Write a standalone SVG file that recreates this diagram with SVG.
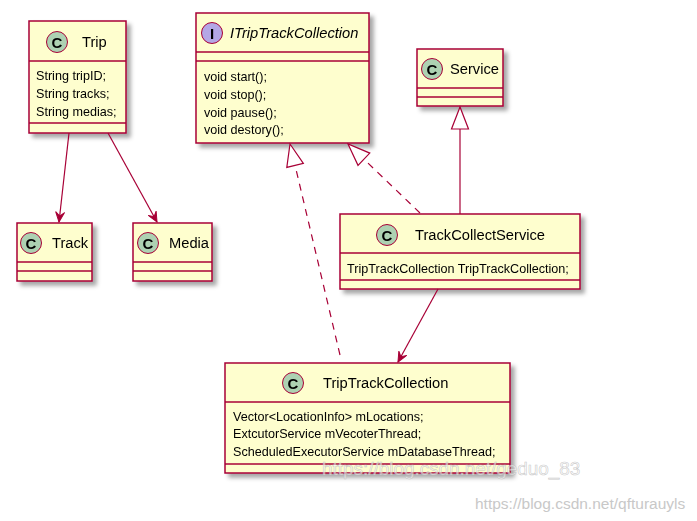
<svg xmlns="http://www.w3.org/2000/svg" width="697" height="521" viewBox="0 0 697 521">
<style>
.box{fill:#FEFECE;stroke:#A80036;stroke-width:1.5;}
.div{stroke:#A80036;stroke-width:1.5;}
.cc{fill:#ADD1B2;stroke:#A80036;stroke-width:1;}
.ci{fill:#B4A7E5;stroke:#A80036;stroke-width:1;}
.name{font-family:"Liberation Sans",Arial,sans-serif;font-size:14.7px;fill:#000;}
.attr{font-family:"Liberation Sans",Arial,sans-serif;font-size:12.6px;fill:#000;}
.glyph{font-family:"Liberation Sans",Arial,sans-serif;font-size:15px;font-weight:bold;fill:#000;text-anchor:middle;}
.edge{fill:none;stroke:#A80036;stroke-width:1.2;}
.dash{stroke-dasharray:7,6;}
.wm{font-family:"Liberation Sans",Arial,sans-serif;}
</style>
<defs>
<filter id="sh" x="-10%" y="-10%" width="130%" height="130%">
<feGaussianBlur in="SourceAlpha" stdDeviation="2"/>
<feOffset dx="4" dy="4" result="b"/>
<feFlood flood-color="#000" flood-opacity="0.35"/>
<feComposite in2="b" operator="in"/>
<feMerge><feMergeNode/><feMergeNode in="SourceGraphic"/></feMerge>
</filter>
<marker id="arr" markerUnits="userSpaceOnUse" markerWidth="14" markerHeight="12" viewBox="-11 -6 12 12" refX="0" refY="0" orient="auto">
<path d="M0,0 L-10,-4.5 L-6,0 L-10,4.5 Z" fill="#A80036" stroke="#A80036" stroke-width="1"/>
</marker>
<marker id="tri" markerUnits="userSpaceOnUse" markerWidth="26" markerHeight="22" viewBox="-24 -10 26 20" refX="0" refY="0" orient="auto">
<path d="M0,0 L-22,-8.5 L-22,8.5 Z" fill="#FFFFFF" stroke="#A80036" stroke-width="1.2"/>
</marker>
</defs>

<g id="Trip" filter="url(#sh)">
<rect class="box" x="29" y="21" width="97" height="112"/>
<line class="div" x1="29" y1="61" x2="126" y2="61"/>
<line class="div" x1="29" y1="123" x2="126" y2="123"/>
<circle class="cc" cx="57" cy="42" r="10.5"/>
<text class="glyph" x="57" y="47.5">C</text>
<text class="name" x="82" y="47">Trip</text>
<text class="attr" x="36" y="80">String tripID;</text>
<text class="attr" x="36" y="98">String tracks;</text>
<text class="attr" x="36" y="116">String medias;</text>
</g>

<g id="Track" filter="url(#sh)">
<rect class="box" x="17" y="223" width="75" height="58"/>
<line class="div" x1="17" y1="262" x2="92" y2="262"/>
<line class="div" x1="17" y1="271" x2="92" y2="271"/>
<circle class="cc" cx="31" cy="243" r="10.5"/>
<text class="glyph" x="31" y="248.5">C</text>
<text class="name" x="52" y="248">Track</text>
</g>

<g id="Media" filter="url(#sh)">
<rect class="box" x="133" y="223" width="79" height="58"/>
<line class="div" x1="133" y1="262" x2="212" y2="262"/>
<line class="div" x1="133" y1="271" x2="212" y2="271"/>
<circle class="cc" cx="148" cy="243" r="10.5"/>
<text class="glyph" x="148" y="248.5">C</text>
<text class="name" x="169" y="248">Media</text>
</g>

<g id="ITripTrackCollection" filter="url(#sh)">
<rect class="box" x="196" y="13" width="173" height="130"/>
<line class="div" x1="196" y1="52" x2="369" y2="52"/>
<line class="div" x1="196" y1="61" x2="369" y2="61"/>
<circle class="ci" cx="212" cy="33" r="10.5"/>
<text class="glyph" x="212" y="38.5" font-family="Liberation Serif, serif">I</text>
<text class="name" x="230" y="38" font-style="italic">ITripTrackCollection</text>
<text class="attr" x="204" y="81">void start();</text>
<text class="attr" x="204" y="99">void stop();</text>
<text class="attr" x="204" y="117">void pause();</text>
<text class="attr" x="204" y="134">void destory();</text>
</g>

<g id="Service" filter="url(#sh)">
<rect class="box" x="417" y="49" width="86" height="57"/>
<line class="div" x1="417" y1="88" x2="503" y2="88"/>
<line class="div" x1="417" y1="97" x2="503" y2="97"/>
<circle class="cc" cx="432" cy="69" r="10.5"/>
<text class="glyph" x="432" y="74.5">C</text>
<text class="name" x="450" y="74">Service</text>
</g>

<g id="TrackCollectService" filter="url(#sh)">
<rect class="box" x="340" y="214" width="240" height="75"/>
<line class="div" x1="340" y1="253" x2="580" y2="253"/>
<line class="div" x1="340" y1="280" x2="580" y2="280"/>
<circle class="cc" cx="387" cy="235" r="10.5"/>
<text class="glyph" x="387" y="240.5">C</text>
<text class="name" x="415" y="240">TrackCollectService</text>
<text class="attr" x="347" y="273">TripTrackCollection TripTrackCollection;</text>
</g>

<g id="TripTrackCollection" filter="url(#sh)">
<rect class="box" x="225" y="363" width="285" height="110"/>
<line class="div" x1="225" y1="402" x2="510" y2="402"/>
<line class="div" x1="225" y1="464" x2="510" y2="464"/>
<circle class="cc" cx="293" cy="383" r="10.5"/>
<text class="glyph" x="293" y="388.5">C</text>
<text class="name" x="323" y="388">TripTrackCollection</text>
<text class="attr" x="233" y="421">Vector&lt;LocationInfo&gt; mLocations;</text>
<text class="attr" x="233" y="438">ExtcutorService mVecoterThread;</text>
<text class="attr" x="233" y="456">ScheduledExecutorService mDatabaseThread;</text>
</g>

<g id="connectors">
<line class="edge" x1="69" y1="133" x2="59" y2="222" marker-end="url(#arr)"/>
<line class="edge" x1="108" y1="133" x2="157" y2="222" marker-end="url(#arr)"/>
<line class="edge" x1="438" y1="289" x2="398" y2="362" marker-end="url(#arr)"/>
<line class="edge" x1="460" y1="214" x2="460" y2="107" marker-end="url(#tri)"/>
<line class="edge dash" x1="420" y1="213" x2="348" y2="144" marker-end="url(#tri)"/>
<line class="edge dash" x1="340" y1="355" x2="290" y2="144" marker-end="url(#tri)"/>
</g>

<g id="watermarks">
<text class="wm" x="322" y="475" font-size="18.9" fill="#FFFFFF" fill-opacity="0.55" stroke="#BBBBBB" stroke-width="0.6" stroke-opacity="0.8">https://blog.csdn.net/geduo_83</text>
<text class="wm" x="475" y="509" font-size="15.5" fill="#C8C8C8">https://blog.csdn.net/qfturauyls</text>
</g>
</svg>
